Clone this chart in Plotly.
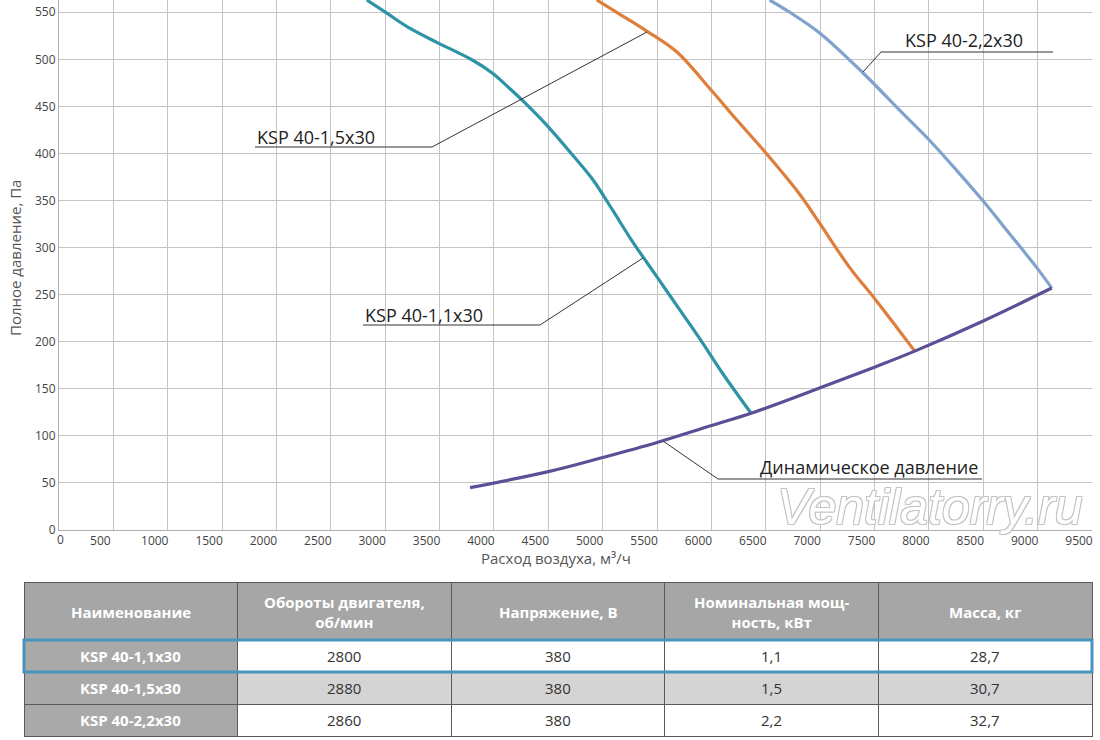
import plotly.graph_objects as go

# fan curves (air flow m3/h, pressure Pa)
ksp11_x = [2830, 3015, 3225, 3475, 3805, 3990, 4145, 4265, 4485, 4725, 4910, 5090, 5265, 5480, 5690, 5900, 6105, 6365]
ksp11_y = [563, 549, 533, 518, 499, 485, 469, 456, 430, 398, 372, 340, 308, 272, 237, 202, 166, 124]

ksp15_x = [4945, 5155, 5405, 5680, 5985, 6230, 6505, 6810, 6995, 7270, 7500, 7700, 7870]
ksp15_y = [563, 548, 530, 508, 469, 436, 400, 357, 326, 279, 246, 216, 190]

ksp22_x = [6535, 6720, 6995, 7390, 7730, 8005, 8255, 8495, 8740, 8990, 9130]
ksp22_y = [563, 550, 528, 486, 446, 414, 382, 350, 315, 279, 257]

dyn_x = [3780, 4500, 5000, 5500, 6000, 6365, 7000, 7500, 7870, 8500, 9130]
dyn_y = [45, 62, 77, 93, 111, 124, 151, 173, 190, 222, 257]

x_ticks = list(range(0, 10000, 500))
y_ticks = list(range(0, 600, 50))

# table
col_names = ["Наименование", "Обороты двигателя,<br>об/мин", "Напряжение, В",
             "Номинальная мощ-<br>ность, кВт", "Масса, кг"]
models = ["KSP 40-1,1x30", "KSP 40-1,5x30", "KSP 40-2,2x30"]
rpm = ["2800", "2880", "2860"]
voltage = ["380", "380", "380"]
power = ["1,1", "1,5", "2,2"]
mass = ["28,7", "30,7", "32,7"]

W, H = 1100, 740
FONT = "Open Sans"


def px(x):
    return x / W


def py(y):
    return 1 - y / H


fig = go.Figure()

curves = [
    (ksp11_x, ksp11_y, "#2d93a6"),
    (ksp15_x, ksp15_y, "#dd7f3a"),
    (ksp22_x, ksp22_y, "#7fa3cc"),
    (dyn_x, dyn_y, "#5e4e96"),
]
for xs, ys, c in curves:
    fig.add_trace(go.Scatter(x=xs, y=ys, mode="lines",
                             line=dict(color=c, width=3.2, shape="spline", smoothing=1.0),
                             showlegend=False, hoverinfo="skip"))

# table grid; the texts are laid on top as annotations so they sit centred in the cells
tab_l, tab_r = 24, 1092
head_top, head_h, row_h = 582, 58, 32
columns = [models, rpm, voltage, power, mass]
fig.add_trace(go.Table(
    domain=dict(x=[px(tab_l), px(tab_r)], y=[0, py(head_top)]),
    header=dict(values=[""] * len(col_names),
                fill_color="#a6a6a6", line=dict(color="#5a5a5a", width=1),
                font=dict(size=8), height=head_h),
    cells=dict(values=[[""] * len(models) for _ in columns],
               fill_color=[["#a9a9a9"] * 3] + [["white", "#d4d4d4", "white"]] * 4,
               line=dict(color="#5a5a5a", width=1),
               font=dict(size=8), height=row_h),
))
col_w = (tab_r - tab_l) / len(col_names)
for i, name in enumerate(col_names):
    cx = px(tab_l + (i + 0.5) * col_w)
    fig.add_annotation(text="<b>%s</b>" % name, x=cx, y=py(head_top + head_h / 2 + 1),
                       xref="paper", yref="paper", xanchor="center", yanchor="middle",
                       showarrow=False, align="center",
                       font=dict(family=FONT, size=15, color="white"))
    for j, val in enumerate(columns[i]):
        cy = py(head_top + head_h + (j + 0.5) * row_h)
        if i == 0:
            txt, fnt = "<b>%s</b>" % val, dict(family=FONT, size=15, color="white")
        else:
            txt, fnt = val, dict(family=FONT, size=15, color="#333")
        fig.add_annotation(text=txt, x=cx, y=cy, xref="paper", yref="paper",
                           xanchor="center", yanchor="middle", showarrow=False, font=fnt)

line_c = "#333333"
shapes = [
    # leader lines + underlines
    dict(x0=881, y0=52, x1=1053, y1=52), dict(x0=881, y0=52, x1=863, y1=72),
    dict(x0=255, y0=147, x1=432, y1=147), dict(x0=432, y0=147, x1=647, y1=32),
    dict(x0=363, y0=325, x1=540, y1=325), dict(x0=540, y0=325, x1=643, y1=258),
    dict(x0=718, y0=479, x1=982, y1=479), dict(x0=718, y0=479, x1=663, y1=441),
]
for s in shapes:
    fig.add_shape(type="line", xref="paper", yref="paper",
                  x0=px(s["x0"]), y0=py(s["y0"]), x1=px(s["x1"]), y1=py(s["y1"]),
                  line=dict(color=line_c, width=1))

# highlighted row in the table
fig.add_shape(type="rect", xref="paper", yref="paper",
              x0=px(tab_l), x1=px(tab_r), y0=py(head_top + head_h + row_h), y1=py(head_top + head_h),
              line=dict(color="#4b93bf", width=3))

labels = [
    ("KSP 40-2,2x30", 903, 40),
    ("KSP 40-1,5x30", 255, 137),
    ("KSP 40-1,1x30", 363, 315),
    ("Динамическое давление", 758, 467),
]
for t, x, y in labels:
    fig.add_annotation(text=t, x=px(x), y=py(y), xref="paper", yref="paper",
                       xanchor="left", yanchor="middle", showarrow=False,
                       font=dict(family=FONT, size=18, color="#222"))

# watermark
fig.add_annotation(text="Ventilatorry.ru", x=px(775), y=py(507), xref="paper", yref="paper",
                   xanchor="left", yanchor="middle", showarrow=False,
                   font=dict(family="Liberation Sans", size=50, color="white", style="italic",
                             shadow="-1px -1px 0 #c4c4c4, 1px -1px 0 #c4c4c4, -1px 1px 0 #c4c4c4, 1px 1px 0 #c4c4c4"))

# axis titles
fig.add_annotation(text="Расход воздуха, м³/ч", x=px(556), y=py(558), xref="paper", yref="paper",
                   xanchor="center", yanchor="middle",
                   showarrow=False, font=dict(family=FONT, size=15, color="#555"))
fig.add_annotation(text="Полное давление, Па", x=px(15), y=py(258), xref="paper", yref="paper",
                   xanchor="center", yanchor="middle",
                   showarrow=False, textangle=-90, font=dict(family=FONT, size=15, color="#555"))
fig.add_annotation(text="0", x=px(60), y=py(539), xref="paper", yref="paper",
                   xanchor="center", yanchor="middle",
                   showarrow=False, font=dict(family=FONT, size=12, color="#444"))

fig.update_layout(
    width=W, height=H,
    margin=dict(l=0, r=0, t=0, b=0),
    paper_bgcolor="white", plot_bgcolor="white",
    template="none",
    xaxis=dict(domain=[px(59), px(1092)], range=[0, 9500],
               tickvals=x_ticks, ticktext=[""] + [str(v) for v in x_ticks[1:]],
               ticklabelshift=-13, showgrid=True, gridcolor="#c4c4c4", gridwidth=1,
               zeroline=False, showline=True, linecolor="#b0b0b0", ticks="",
               tickfont=dict(family=FONT, size=12, color="#444"), automargin=False),
    yaxis=dict(domain=[py(530), 1], range=[0, 563],
               tickvals=y_ticks, showgrid=True, gridcolor="#c4c4c4", gridwidth=1,
               zeroline=False, showline=True, linecolor="#b0b0b0", ticks="",
               tickfont=dict(family=FONT, size=12, color="#444"), automargin=False),
)

fig.write_html("out.html", config={"displayModeBar": False},
               post_script="document.body.style.margin='0px';")
